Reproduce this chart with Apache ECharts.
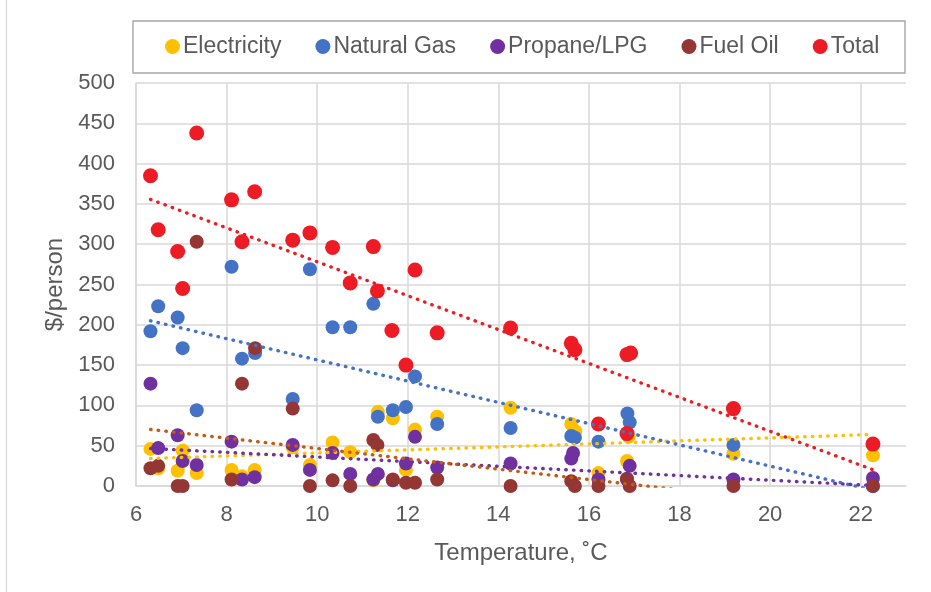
<!DOCTYPE html>
<html>
<head>
    <meta charset="utf-8">
    <title>Energy cost vs temperature</title>
    <script src="https://cdn.jsdelivr.net/npm/echarts@6/dist/echarts.min.js"></script>
    <style>
        html, body { margin: 0; padding: 0; background: #fff; }
        #main { width: 931px; height: 592px; }
    </style>
</head>
<body>
<div id="main"></div>
<script type="text/javascript">
// [temperature, $/person]
var electricity = [[6.32,46],[6.49,22],[6.92,19],[7.03,44],[7.34,16],[8.11,20],[8.34,12],[8.62,20],
    [9.46,48],[9.84,26],[10.34,54],[10.73,42],[11.24,7],[11.34,92],[11.67,84],[11.96,20],[12.16,70],
    [12.65,86],[14.27,97],[15.61,77],[15.7,68],[16.21,16],[16.84,31],[16.88,61],[19.19,40],[22.27,38]];
var naturalGas = [[6.32,192],[6.49,223],[6.92,209],[7.03,171],[7.34,94],[8.11,272],[8.34,158],[8.63,165],
    [9.46,108],[9.84,269],[10.34,197],[10.73,197],[11.24,226],[11.34,86],[11.67,94],[11.96,98],[12.16,136],
    [12.65,77],[14.27,72],[15.61,62],[15.69,60],[16.21,55],[16.85,90],[16.9,79],[19.19,51],[22.27,0]];
var propane = [[6.32,127],[6.49,47],[6.92,63],[7.03,31],[7.34,26],[8.11,55],[8.34,8],[8.62,11],
    [9.46,51],[9.84,20],[10.34,41],[10.73,15],[11.24,8],[11.34,15],[11.67,7],[11.96,28],[12.16,61],
    [12.65,23],[14.27,28],[15.61,34],[15.65,41],[16.21,8],[16.84,8],[16.9,25],[19.19,8],[22.27,10]];
var fuelOil = [[6.32,22],[6.49,25],[6.92,0],[7.03,0],[7.34,303],[8.11,8],[8.34,127],[8.63,171],
    [9.46,96],[9.84,0],[10.34,7],[10.73,0],[11.24,57],[11.33,51],[11.67,8],[11.96,4],[12.16,4],
    [12.65,8],[14.27,0],[15.61,6],[15.69,0],[16.21,0],[16.84,9],[16.9,0],[19.19,0],[22.27,0]];
var total = [[6.32,385],[6.49,318],[6.92,291],[7.03,245],[7.34,438],[8.11,355],[8.34,303],[8.62,365],
    [9.46,305],[9.84,314],[10.34,296],[10.73,252],[11.24,297],[11.33,242],[11.65,193],[11.96,150],
    [12.16,268],[12.65,190],[14.27,196],[15.61,177],[15.69,169],[16.21,77],[16.84,65],[16.84,163],
    [16.92,165],[19.19,96],[22.27,52]];

var names = ['Electricity', 'Natural Gas', 'Propane/LPG', 'Fuel Oil', 'Total'];
var dotColors = ['#FFC000', '#4472C4', '#7030A0', '#943634', '#ED1C24'];
var trendColors = ['#FFC000', '#4472C4', '#7030A0', '#C55A11', '#ED1C24'];
var allData = [electricity, naturalGas, propane, fuelOil, total];

// least squares line over the range of the points
function trend(pts){
    var n = pts.length, sx = 0, sy = 0, sxx = 0, sxy = 0, lo = Infinity, hi = -Infinity;
    pts.forEach(function(p){
        sx += p[0]; sy += p[1]; sxx += p[0]*p[0]; sxy += p[0]*p[1];
        lo = Math.min(lo, p[0]); hi = Math.max(hi, p[0]);
    });
    var k = (n*sxy - sx*sy) / (n*sxx - sx*sx);
    var b = (sy - k*sx) / n;
    return [[lo, k*lo + b], [hi, k*hi + b]];
}

var series = [];
allData.forEach(function(d, i){
    series.push({
        name: names[i],
        type: 'scatter',
        data: d,
        symbolSize: i == 4 ? 15 : 14,
        itemStyle: { color: dotColors[i], opacity: 1 },
        z: 2
    });
});
allData.forEach(function(d, i){
    series.push({
        name: names[i] + ' trend',
        type: 'line',
        data: trend(d),
        symbol: 'none',
        silent: true,
        clip: true,
        lineStyle: { color: trendColors[i], width: 3.4, type: [0.5, 7.2], cap: 'round' },
        z: 3
    });
});

var grayText = '#595959';
var myChart = echarts.init(document.getElementById('main'));
var option = {
    backgroundColor: '#fff',
    animation: false,
    textStyle: { fontFamily: 'Liberation Sans, Arial, sans-serif' },
    graphic: [
        { type: 'rect', shape: { x: 133, y: 21, width: 772, height: 52 },
          style: { fill: 'none', stroke: '#A6A6A6', lineWidth: 1.4 }, z: 0 },
        { type: 'line', shape: { x1: 6.5, y1: 0, x2: 6.5, y2: 592 },
          style: { stroke: '#D9D9D9', lineWidth: 1.2 } }
    ],
    legend: {
        data: names,
        left: 165,
        top: 35,
        padding: 0,
        itemGap: 34,
        itemWidth: 15,
        itemHeight: 15,
        icon: 'circle',
        textStyle: { color: grayText, fontSize: 23, padding: [0, 0, 0, -2] }
    },
    grid: { left: 136, right: 25, top: 83, bottom: 106 },
    xAxis: {
        type: 'value',
        min: 6, max: 23, interval: 2,
        name: 'Temperature, ˚C',
        nameLocation: 'middle',
        nameGap: 55,
        nameTextStyle: { color: grayText, fontSize: 24 },
        axisLine: { show: true, lineStyle: { color: '#D9D9D9', width: 1.5 } },
        axisTick: { show: false },
        axisLabel: { color: grayText, fontSize: 22, margin: 18, showMaxLabel: false },
        splitLine: { show: true, showMaxLine: false, lineStyle: { color: '#D9D9D9', width: 1.5 } }
    },
    yAxis: {
        type: 'value',
        min: 0, max: 500, interval: 50,
        name: '$/person',
        nameLocation: 'middle',
        nameGap: 60,
        nameTextStyle: { color: grayText, fontSize: 24 },
        axisLine: { show: true, lineStyle: { color: '#D9D9D9', width: 1.5 } },
        axisTick: { show: false },
        axisLabel: { color: grayText, fontSize: 22, margin: 21 },
        splitLine: { show: true, lineStyle: { color: '#D9D9D9', width: 1.5 } }
    },
    series: series
};
myChart.setOption(option);
</script>
</body>
</html>
